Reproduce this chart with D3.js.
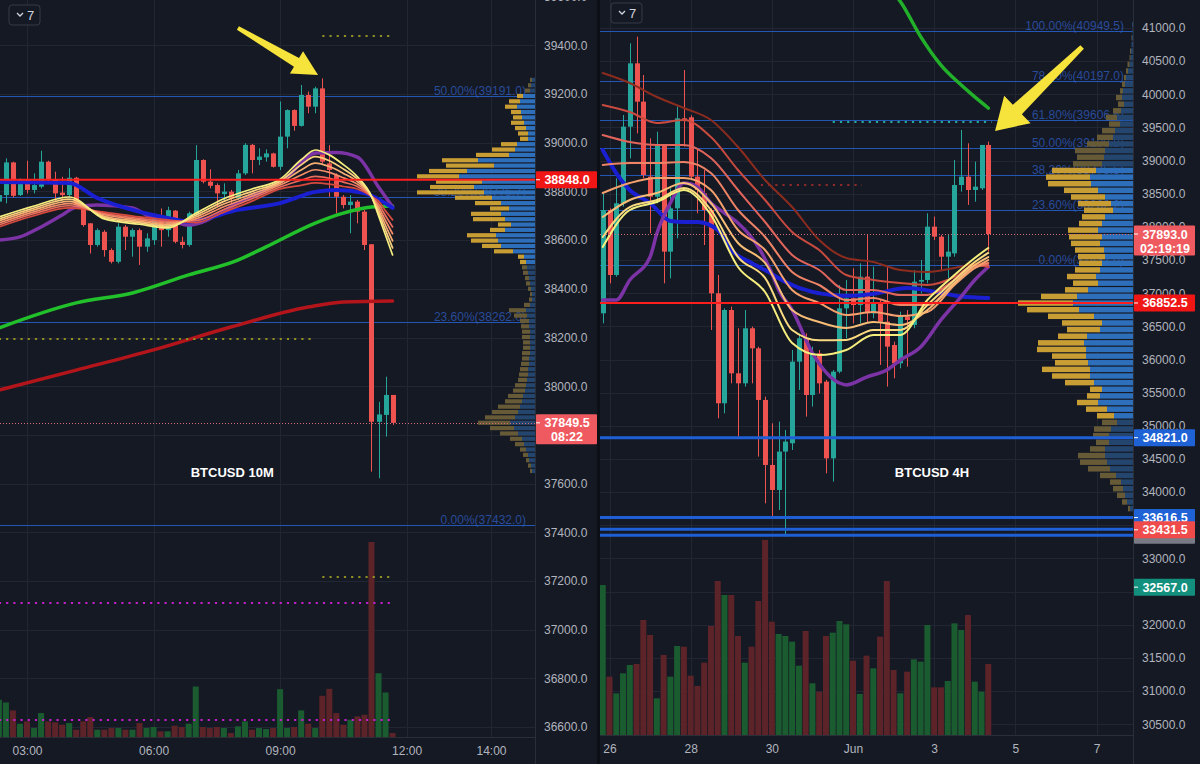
<!DOCTYPE html>
<html><head><meta charset="utf-8">
<script src="https://cdn.jsdelivr.net/npm/d3@7/dist/d3.min.js"></script>
<style>html,body{margin:0;padding:0;background:#151924;overflow:hidden}svg{display:block}text{font-family:"Liberation Sans",Arial,sans-serif}</style>
</head><body><svg id="chart" width="1200" height="764"></svg>
<script>
// ================= LEFT PANEL DATA : BTCUSD 10M =================
const leftTimes = "02:20 02:30 02:40 02:50 03:00 03:10 03:20 03:30 03:40 03:50 04:00 04:10 04:20 04:30 04:40 04:50 05:00 05:10 05:20 05:30 05:40 05:50 06:00 06:10 06:20 06:30 06:40 06:50 07:00 07:10 07:20 07:30 07:40 07:50 08:00 08:10 08:20 08:30 08:40 08:50 09:00 09:10 09:20 09:30 09:40 09:50 10:00 10:10 10:20 10:30 10:40 10:50 11:00 11:10 11:20 11:30 11:40".split(" ");
const leftOpen = [38758,38785,38919,38785,38847,38806,38819,38922,38847,38795,38785,38856,38744,38669,38580,38634,38559,38511,38655,38614,38641,38573,38600,38696,38641,38721,38593,38580,38703,38929,38840,38826,38789,38799,38772,38874,38991,38929,38940,38956,38901,39025,39134,39069,39196,39148,39223,38915,38867,38778,38744,38758,38717,38583,37854,37882,37964];
const leftHigh = [38800,38936,38922,38853,38926,38874,38967,38926,38881,38860,38895,38860,38751,38669,38648,38641,38566,38669,38662,38648,38648,38628,38703,38730,38737,38723,38614,38717,38990,38932,38891,38833,38833,38806,38888,38998,38995,38977,38973,38959,39169,39137,39137,39237,39210,39230,39264,38990,38874,38785,38785,38765,38724,38583,37936,38039,37964];
const leftLow = [38745,38751,38775,38781,38792,38792,38812,38840,38758,38771,38778,38737,38655,38545,38573,38532,38504,38504,38559,38532,38498,38552,38580,38573,38614,38587,38566,38573,38696,38833,38813,38737,38765,38751,38765,38867,38874,38908,38922,38898,38888,38977,39049,39066,39121,39121,38915,38778,38710,38730,38628,38669,38559,37649,37622,37793,37841];
const leftClose = [38785,38919,38782,38847,38806,38826,38922,38847,38792,38785,38856,38744,38662,38580,38641,38559,38511,38655,38614,38641,38573,38607,38696,38641,38723,38593,38580,38710,38929,38840,38823,38792,38799,38772,38874,38991,38929,38943,38956,38901,39025,39134,39069,39196,39148,39223,38922,38888,38778,38744,38758,38717,38580,37854,37884,37964,37849.5];
const leftVolume = [112,104,80,40,47,27,72,47,44,37,42,22,47,60,22,22,27,27,22,22,42,27,30,17,17,34,30,40,152,30,27,30,27,12,32,47,22,27,24,27,144,27,30,80,40,27,124,145,72,37,52,62,67,587,192,134,12];

const leftPriceTicks = [39600,39400,39200,39000,38800,38600,38400,38200,38000,37800,37600,37400,37200,37000,36800,36600];
const leftHiddenTickLabels = [37800];
const leftTimeTicks = ["03:00","06:00","09:00","12:00","14:00"];

const leftRibbonTimes = ["02:20","03:10","04:00","04:50","05:40","06:20","07:00","07:40","08:20","09:00","09:30","09:50","10:10","10:30","10:50","11:10","11:20","11:30","11:40"];
const leftRibbon0 = [38695,38740,38777,38687,38665,38650,38710,38770,38810,38850,38930,38970,38950,38910,38860,38780,38700,38620,38539];
const leftRibbon1 = [38687,38732,38768,38693,38671,38657,38702,38759,38800,38842,38909,38943,38926,38892,38850,38780,38712,38640,38568];
const leftRibbon2 = [38679,38724,38759,38698,38677,38663,38695,38748,38790,38834,38888,38916,38902,38874,38840,38780,38724,38660,38597];
const leftRibbon3 = [38670,38716,38750,38704,38683,38670,38687,38737,38780,38826,38867,38889,38878,38856,38830,38780,38736,38680,38626];
const leftRibbon4 = [38662,38708,38741,38709,38689,38676,38680,38726,38770,38818,38846,38862,38854,38838,38820,38780,38748,38700,38654];
const leftRibbon5 = [38654,38700,38732,38715,38695,38683,38672,38715,38760,38810,38825,38835,38830,38820,38810,38780,38760,38720,38683];

const leftGreenTimes = ["02:20","04:10","05:30","06:50","08:00","08:40","09:50","10:30","11:10","11:40"];
const leftGreen = [38239,38342,38383,38457,38518,38572,38670,38711,38736,38740];
const leftDarkRedTimes = ["02:20","04:10","06:00","07:50","09:40","10:30","11:40"];
const leftDarkRed = [37984,38066,38149,38243,38325,38346,38350];
const leftBlueTimes = ["02:20","04:00","04:40","05:30","06:20","06:50","08:00","09:00","09:50","10:20","11:00","11:40"];
const leftBlue = [38839,38835,38773,38724,38691,38676,38724,38752,38798,38806,38793,38732];
const leftPurpleTimes = ["02:20","02:50","03:20","03:50","04:10","04:40","05:30","05:50","06:20","06:50","08:00","09:10","09:50","10:20","10:50","11:20","11:40"];
const leftPurple = [38600,38613,38654,38703,38736,38744,38732,38703,38683,38662,38752,38859,38958,38960,38941,38818,38736];

const leftFibRatios = [50.00, 38.20, 23.60, 0.00];
const leftFibPrices = [39191.0, 38775.7, 38262.0, 37432.0];

const leftProfileTop = 39268.5, leftProfileStep = 22;
const leftProfileUp = [3,4,5,12,15,18,14,13,11,9,7,7,18,20,26,57,41,68,76,53,61,51,43,34,26,34,30,24,30,39,37,34,22,11,9,8,7,6,5,4,3,3,5,9,8,6,6,5,5,5,5,5,6,6,7,7,8,9,10,12,13,15,17,20,25,21,17,13,11,9,7,6,4,3];
const leftProfileDown = [2,3,5,6,11,12,10,9,13,11,10,8,16,23,33,36,48,38,42,46,44,67,37,26,19,30,32,13,15,29,27,19,19,6,6,5,5,4,4,3,2,3,6,17,13,9,8,8,8,7,7,8,7,8,8,9,9,11,12,15,17,22,26,30,32,24,18,12,9,6,5,3,3,2];
const leftValueArea = [3, 34];

const leftRedLevel = 38848.0;
const leftLastPrice = 37849.5, leftTimer = "08:22";
const leftOliveDots = [[39440,"10:00","11:40"],[38195,"02:20","09:50"],[37218,"10:00","11:40"]];
const leftMagentaDots = [[37110,"02:20","11:40"],[36630,"02:20","11:40"]];
const leftArrow = {from:["08:00",39471], to:["09:54",39278]};
const leftTitle = {text:"BTCUSD 10M", time:"07:52", price:37627};

// ================= RIGHT PANEL DATA : BTCUSD 4H =================
const rightTimes = ["05-25 20:00","05-26 00:00","05-26 04:00","05-26 08:00","05-26 12:00","05-26 16:00","05-26 20:00","05-27 00:00","05-27 04:00","05-27 08:00","05-27 12:00","05-27 16:00","05-27 20:00","05-28 00:00","05-28 04:00","05-28 08:00","05-28 12:00","05-28 16:00","05-28 20:00","05-29 00:00","05-29 04:00","05-29 08:00","05-29 12:00","05-29 16:00","05-29 20:00","05-30 00:00","05-30 04:00","05-30 08:00","05-30 12:00","05-30 16:00","05-30 20:00","05-31 00:00","05-31 04:00","05-31 08:00","05-31 12:00","05-31 16:00","05-31 20:00","06-01 00:00","06-01 04:00","06-01 08:00","06-01 12:00","06-01 16:00","06-01 20:00","06-02 00:00","06-02 04:00","06-02 08:00","06-02 12:00","06-02 16:00","06-02 20:00","06-03 00:00","06-03 04:00","06-03 08:00","06-03 12:00","06-03 16:00","06-03 20:00","06-04 00:00","06-04 04:00","06-04 08:00"];
const rightOpen = [36697,38255,37275,38356,39512,40467,39889,38758,38456,39235,37627,38280,39638,39653,38758,38507,38255,36999,35340,36747,35792,35641,36471,36169,35390,34410,34033,34611,34737,35968,36320,35465,36094,35666,34510,35817,36772,36923,36822,37250,36697,36848,36571,36219,35943,36646,36521,37174,37200,38004,37853,37551,37601,38632,38758,38557,38582,39236];
const rightHigh = [38507,38280,38733,39688,40769,40869,40291,39336,39436,39235,38582,39814,40366,39683,39160,38858,38280,37275,36772,36798,36471,36747,36496,36194,35440,35038,35063,34938,36144,36395,36395,36194,36144,35692,35842,37124,37200,37375,37451,37878,37400,36898,37400,36269,36722,36747,37350,37501,38205,38155,37878,37878,39009,39462,39261,38984,39236,39286];
const rightLow = [36546,37149,37250,38306,39034,39411,38733,37903,38356,37149,37225,37828,39210,38707,38205,37727,36446,35114,35189,35641,34837,35591,35641,34536,33831,33630,33731,33329,34636,35541,35139,35290,35490,34284,34159,35792,36320,36546,36546,36546,36622,35918,35592,35717,35867,35893,36471,36998,37149,37803,37350,37225,37551,38532,38331,38381,38557,37627];
const rightClose = [38255,37275,38356,39512,40467,39889,38783,38456,39235,37627,38280,39638,39610,38758,38557,38255,36999,35340,36747,35792,35641,36471,36169,35390,34410,34033,34611,34762,35968,36320,35465,36094,35641,34510,35817,36772,36923,36822,37250,36697,36848,36571,36194,35943,36646,36596,37174,37200,38004,37853,37551,37627,38632,38758,38557,38607,39236,37893];
const rightVolume = [450,175,125,185,210,213,345,300,110,240,175,267,265,178,147,217,327,462,420,420,297,217,265,402,585,340,303,297,280,208,312,155,130,297,307,342,332,223,123,238,200,295,462,195,125,190,227,220,330,143,143,162,335,315,360,160,130,213];

const rightPriceTicks = [41000,40500,40000,39500,39000,38500,38000,37500,37000,36500,36000,35500,35000,34500,34000,33500,33000,32500,32000,31500,31000,30500];
const rightHiddenTickLabels = [33500, 32500];
const rightDateTicks = ["05-26 00:00","05-28 00:00","05-30 00:00","06-01 00:00","06-03 00:00","06-05 00:00","06-07 00:00"];
const rightDateLabels = ["26","28","30","Jun","3","5","7"];

const rightRibbonTimes = ["05-25 20:00","05-26 12:00","05-27 04:00","05-27 20:00","05-28 12:00","05-29 04:00","05-29 20:00","05-30 12:00","05-31 04:00","05-31 20:00","06-01 12:00","06-02 04:00","06-02 20:00","06-03 12:00","06-04 00:00","06-04 08:00"];
const rightRibbon0 = [37697,38255,38376,38557,38180,37396,37019,36250,36068,36144,36370,36370,36898,37275,37531,37682];
const rightRibbon1 = [37848,38300,38406,38587,38255,37546,37230,36446,36290,36295,36446,36446,36823,37200,37471,37607];
const rightRibbon2 = [38150,38406,38512,38662,38361,37758,37456,36747,36566,36476,36566,36521,36747,37154,37426,37546];
const rightRibbon3 = [38512,38662,38738,38738,38557,37954,37652,37049,36853,36672,36717,36657,36717,37124,37381,37501];
const rightRibbon4 = [38934,38964,38964,38979,38813,38255,37848,37320,37124,36898,36928,36823,36823,37154,37381,37456];
const rightRibbon5 = [39386,39281,39235,39235,39039,38557,38074,37577,37350,37049,37049,36973,36973,37200,37411,37426];
const rightRibbon6 = [39839,39733,39567,39612,39356,38858,38406,37923,37652,37275,37200,37154,37124,37245,37426,37396];
const rightRibbon7 = [40321,40170,39959,39793,39612,39205,38708,38300,37803,37531,37471,37350,37320,37381,37441,37456];

const rightBlueTimes = ["05-25 20:00","05-26 04:00","05-26 12:00","05-27 00:00","05-27 12:00","05-27 20:00","05-28 04:00","05-28 16:00","05-29 00:00","05-29 12:00","05-29 20:00","05-30 08:00","05-31 00:00","05-31 12:00","05-31 20:00","06-01 12:00","06-02 08:00","06-03 04:00","06-03 16:00","06-04 08:00"];
const rightBlue = [39160,38813,38557,38361,38090,38074,38074,37954,37652,37456,37350,37170,37020,36973,36960,36990,37079,37004,36950,36928];
const rightPurpleTimes = ["05-25 20:00","05-26 04:00","05-26 12:00","05-27 00:00","05-27 04:00","05-27 12:00","05-27 20:00","05-28 04:00","05-28 12:00","05-28 20:00","05-29 04:00","05-29 16:00","05-30 00:00","05-30 04:00","05-30 12:00","05-31 00:00","05-31 16:00","05-31 20:00","06-01 08:00","06-01 20:00","06-02 04:00","06-02 16:00","06-03 04:00","06-03 16:00","06-04 00:00","06-04 08:00"];
const rightPurple = [36898,36898,37200,37546,37900,38361,38662,38602,38361,38210,38059,37697,37300,37049,36750,36098,35646,35616,35736,35842,35993,36189,36597,36950,37200,37396];
const rightGreenTimes = ["06-01 16:00","06-02 04:00","06-02 16:00","06-03 04:00","06-03 16:00","06-04 00:00","06-04 08:00"];
const rightGreen = [41724,41400,40870,40440,40140,39960,39793];

const rightFibRatios = [100.00, 78.60, 61.80, 50.00, 38.20, 23.60, 0.00];
const rightFibPrices = [40949.5, 40197.0, 39606.6, 39190.8, 38775.5, 38262.2, 37432.0];

const rightProfileTop = 41100, rightProfileStep = 100;
const rightProfileUp = [1,0.5,1,1.5,2,2.5,3.5,5,7,8,10,11,9,12,16,13,18,20,24,28,29,31,37,43,42,35,28,22,20,28,31,35,31,33,29,28,31,33,37,35,45,56,60,54,39,31,33,46,49,47,47,45,43,43,39,31,33,35,26,19,16,22,24,24,28,28,26,23,17,12,10,8,6,3];
const rightProfileDown = [0,0,0.5,0,1,1,2,2,2,3,3,6,6,8,11,11,13,16,22,30,27,29,44,44,43,34,34,33,29,23,23,30,33,29,29,27,23,25,29,25,23,36,55,52,46,40,33,29,46,49,34,33,48,38,29,12,13,21,21,17,15,17,16,13,15,27,27,22,16,11,10,8,5,2];
const rightValueArea = [22, 59];

const rightRedLevel = 36852.5;
const rightBlueLevels = [34821.0, 33616.5, 33440.0, 33350.0];
const rightLastPrice = 37893.0, rightTimer = "02:19:19";
const rightTealDots = [[39582,"05-31 12:00","06-04 10:00"]];
const rightRedDots = [[38632,"05-29 17:30","06-01 05:20"]];
const rightArrow = {from:["06-06 15:30",40713], to:["06-04 12:00",39447]};
const rightTitle = {text:"BTCUSD 4H", time:"06-02 22:45", price:34230};

// ================= DRAWING =================
const svg = d3.select("#chart");
const BG = "#151924", GRID = "#222633", AXIS_TXT = "#b2b5be";
const UP = "#26a69a", DOWN = "#ef5350";
const parseL = d3.utcParse("%Y-%m-%d %H:%M");
const tL = s => parseL("2021-06-04 " + s);
const tR = s => parseL("2021-" + s);

svg.append("rect").attr("width",1200).attr("height",764).attr("fill",BG);

const xL = d3.scaleTime().domain([tL("03:00"), tL("14:00")]).range([27, 491]);
const yL = d3.scaleLinear().domain([39200, 36600]).range([94, 727.1]);
const xR = d3.scaleTime().domain([tR("05-26 00:00"), tR("06-07 00:00")]).range([609.5, 1096.5]);
const yR = d3.scaleLinear().domain([41000, 30500]).range([28, 724.2]);

const defs = svg.append("defs");
defs.append("clipPath").attr("id","clipL").append("rect").attr("x",0).attr("y",0).attr("width",535).attr("height",737);
defs.append("clipPath").attr("id","clipR").append("rect").attr("x",600).attr("y",0).attr("width",533).attr("height",735);

function arrowPoly(x1,y1,x2,y2,headLen,headW,w1,w2){
  const dx=x2-x1, dy=y2-y1, L=Math.hypot(dx,dy), ux=dx/L, uy=dy/L, px=-uy, py=ux;
  const bx=x2-ux*headLen, by=y2-uy*headLen;
  return [[x1+px*w1/2,y1+py*w1/2],[bx+px*w2/2,by+py*w2/2],[bx+px*headW,by+py*headW],[x2,y2],
          [bx-px*headW,by-py*headW],[bx-px*w2/2,by-py*w2/2],[x1-px*w1/2,y1-py*w1/2]].map(p=>p.join(",")).join(" ");
}

function drawPanel(P){
  const {x,y,tp} = P;
  const grid = svg.append("g").attr("clip-path",`url(#${P.clip})`);
  P.priceTicks.forEach(p=>grid.append("line").attr("x1",P.x0).attr("x2",P.x1).attr("y1",Math.round(y(p))+0.5).attr("y2",Math.round(y(p))+0.5).attr("stroke",GRID));
  P.timeTicks.forEach(t=>grid.append("line").attr("x1",Math.round(x(tp(t)))+0.5).attr("x2",Math.round(x(tp(t)))+0.5).attr("y1",0).attr("y2",P.yb).attr("stroke",GRID));

  const plot = svg.append("g").attr("clip-path",`url(#${P.clip})`);
  const bars = P.times.map((t,i)=>({t:tp(t), o:P.open[i], h:P.high[i], l:P.low[i], c:P.close[i], v:P.volume[i]}));

  const vy = d3.scaleLinear().domain([0, P.volMax]).range([P.yb, P.yb - 195]);
  plot.append("g").selectAll("rect").data(bars).join("rect")
    .attr("x",d=>x(d.t)-P.volW/2).attr("width",P.volW)
    .attr("y",d=>vy(d.v)).attr("height",d=>P.yb - vy(d.v))
    .attr("fill",d=>d.c>=d.o ? "#1a5c30" : "#5c2328");

  P.fibPrices.forEach((p,i)=>{
    const yy = Math.round(y(p))+0.5;
    plot.append("line").attr("x1",P.x0).attr("x2",P.x1).attr("y1",yy).attr("y2",yy).attr("stroke","#2456b4").attr("stroke-width",1);
    plot.append("text").attr("x",P.x1-9).attr("y",yy-2).attr("text-anchor","end").attr("font-size",12)
      .attr("fill","#2f5dc0").attr("fill-opacity",0.75).text(`${P.fibRatios[i].toFixed(2)}%(${p.toFixed(1)})`);
  });

  const pw = d3.scaleLinear().domain([0,1]).range([0,1]);
  const prof = plot.append("g");
  P.profUp.forEach((u,k)=>{
    const pTop = P.profTop - P.profStep*k, pBot = pTop - P.profStep;
    const y0 = y(pTop), y1 = y(pBot);
    const dim = k < P.va[0] || k > P.va[1];
    const wu = pw(u), wd = pw(P.profDown[k]);
    prof.append("rect").attr("x",P.x1-wu).attr("y",y0+0.5).attr("width",wu).attr("height",Math.max(1,y1-y0-1.2))
      .attr("fill",dim ? "#24466e" : "#2e6fbb");
    prof.append("rect").attr("x",P.x1-wu-wd).attr("y",y0+0.5).attr("width",wd).attr("height",Math.max(1,y1-y0-1.2))
      .attr("fill",dim ? "#675a36" : "#c89d34");
  });

  const cg = plot.append("g");
  cg.selectAll("line").data(bars).join("line")
    .attr("x1",d=>Math.round(x(d.t))+0.5).attr("x2",d=>Math.round(x(d.t))+0.5)
    .attr("y1",d=>y(d.h)).attr("y2",d=>y(d.l))
    .attr("stroke",d=>d.c>=d.o?UP:DOWN).attr("stroke-width",1);
  cg.selectAll("rect").data(bars).join("rect")
    .attr("x",d=>Math.round(x(d.t))-2).attr("width",5)
    .attr("y",d=>y(Math.max(d.o,d.c))).attr("height",d=>Math.max(1,Math.abs(y(d.o)-y(d.c))))
    .attr("fill",d=>d.c>=d.o?UP:DOWN);

  const line = d3.line().x(d=>x(d.t)).y(d=>y(d.v)).curve(d3.curveMonotoneX);
  P.lines.forEach(L=>{
    const pts = L.times.map((t,i)=>({t:tp(t), v:L.values[i]}));
    plot.append("path").attr("d",line(pts)).attr("fill","none").attr("stroke",L.color)
      .attr("stroke-width",L.w).attr("stroke-linecap","round").attr("stroke-linejoin","round");
  });

  P.dots.forEach(D=>{
    D.items.forEach(([p,a,b])=>{
      const yy = Math.round(y(p));
      plot.append("line").attr("x1",x(tp(a))).attr("x2",x(tp(b))).attr("y1",yy).attr("y2",yy)
        .attr("stroke",D.color).attr("stroke-width",2.2).attr("stroke-dasharray","2.2,5");
    });
  });

  P.levels.forEach(Lv=>{
    plot.append("line").attr("x1",P.x0).attr("x2",P.x1).attr("y1",y(Lv.p)).attr("y2",y(Lv.p))
      .attr("stroke",Lv.color).attr("stroke-width",Lv.w);
  });

  const ly = Math.round(y(P.last))+0.5;
  plot.append("line").attr("x1",P.x0).attr("x2",P.x1).attr("y1",ly).attr("y2",ly)
    .attr("stroke","#d56a78").attr("stroke-width",1).attr("stroke-dasharray","1,2");

  plot.append("text").attr("x",x(tp(P.title.time))).attr("y",y(P.title.price)).attr("text-anchor","middle")
    .attr("fill","#ffffff").attr("font-size",13).attr("font-weight","bold").text(P.title.text);

  const a1 = [x(tp(P.arrow.from[0])), y(P.arrow.from[1])], a2 = [x(tp(P.arrow.to[0])), y(P.arrow.to[1])];
  svg.append("polygon").attr("points",arrowPoly(a1[0],a1[1],a2[0],a2[1],P.arrowHead[0],P.arrowHead[1],P.arrowHead[2],P.arrowHead[3]))
    .attr("fill","#f6e33b");

  svg.append("line").attr("x1",P.x1+0.5).attr("x2",P.x1+0.5).attr("y1",0).attr("y2",764).attr("stroke","#2a2e39");
  svg.append("line").attr("x1",P.x0).attr("x2",P.x1).attr("y1",P.yb+0.5).attr("y2",P.yb+0.5).attr("stroke","#2a2e39");

  const labelTicks = P.priceTicks.filter(p=>!P.hiddenTicks.includes(p));
  const ay = svg.append("g").attr("transform",`translate(${P.x1},0)`)
    .call(d3.axisRight(y).tickValues(labelTicks).tickSize(0).tickPadding(9).tickFormat(d3.format(".1f")));
  ay.select(".domain").remove();
  ay.selectAll("text").attr("fill",AXIS_TXT).attr("font-size",12).attr("font-family","Liberation Sans, Arial, sans-serif");

  const ax = svg.append("g").attr("transform",`translate(0,${P.yb})`)
    .call(d3.axisBottom(x).tickValues(P.timeTicks.map(tp)).tickSize(0).tickPadding(9).tickFormat((d,i)=>P.timeLabels[i]));
  ax.select(".domain").remove();
  ax.selectAll("text").attr("fill",AXIS_TXT).attr("font-size",12).attr("font-family","Liberation Sans, Arial, sans-serif");

  const wg = svg.append("g").attr("transform",`translate(${P.x0+P.widget[0]},${P.widget[1]})`);
  wg.append("rect").attr("width",31).attr("height",20).attr("rx",3).attr("fill",BG).attr("stroke","#363a45");
  wg.append("path").attr("d","M8,8 L11,11 L14,8").attr("fill","none").attr("stroke","#d1d4dc").attr("stroke-width",1.3);
  wg.append("text").attr("x",18).attr("y",15).attr("fill","#d1d4dc").attr("font-size",13).text("7");
}

function priceLabel(xA, yc, lines, fill){
  const g = svg.append("g");
  const hh = lines.length===2 ? 30 : 17;
  g.append("rect").attr("x",xA+1).attr("y",yc-8.5).attr("width",61).attr("height",hh).attr("fill",fill).attr("rx",1);
  g.append("line").attr("x1",xA+1).attr("x2",xA+5).attr("y1",yc).attr("y2",yc).attr("stroke","#ffffff").attr("stroke-width",1);
  lines.forEach((t,i)=>g.append("text").attr("x",xA+32).attr("y",yc+4.5+i*14).attr("text-anchor","middle")
    .attr("fill","#ffffff").attr("font-size",12.5).attr("font-weight","bold").text(t));
}

drawPanel({
  x:xL, y:yL, tp:tL, clip:"clipL", x0:0, x1:535, yb:737,
  times:leftTimes, open:leftOpen, high:leftHigh, low:leftLow, close:leftClose, volume:leftVolume, volMax:587, volW:6,
  priceTicks:leftPriceTicks, hiddenTicks:leftHiddenTickLabels, timeTicks:leftTimeTicks, timeLabels:leftTimeTicks,
  fibPrices:leftFibPrices, fibRatios:leftFibRatios,
  profTop:leftProfileTop, profStep:leftProfileStep, profUp:leftProfileUp, profDown:leftProfileDown, va:leftValueArea,
  lines:[
    {times:leftDarkRedTimes, values:leftDarkRed, color:"#b3151b", w:3.5},
    {times:leftGreenTimes, values:leftGreen, color:"#22c02a", w:3.5},
    {times:leftPurpleTimes, values:leftPurple, color:"#7b33a6", w:3.5},
    {times:leftBlueTimes, values:leftBlue, color:"#1a1fd2", w:4},
    {times:leftRibbonTimes, values:leftRibbon5, color:"#d64a3e", w:1.7},
    {times:leftRibbonTimes, values:leftRibbon4, color:"#ea6c5c", w:1.7},
    {times:leftRibbonTimes, values:leftRibbon3, color:"#f38f68", w:1.7},
    {times:leftRibbonTimes, values:leftRibbon2, color:"#f7ae72", w:1.7},
    {times:leftRibbonTimes, values:leftRibbon1, color:"#fad07e", w:1.7},
    {times:leftRibbonTimes, values:leftRibbon0, color:"#f7ee80", w:1.7}
  ],
  dots:[{color:"#8e8e22", items:leftOliveDots},{color:"#c21fc8", items:leftMagentaDots}],
  levels:[{p:leftRedLevel, color:"#ff1e1e", w:2}],
  last:leftLastPrice, title:leftTitle, arrow:leftArrow, arrowHead:[25,13,4,10], widget:[9,5]
});

drawPanel({
  x:xR, y:yR, tp:tR, clip:"clipR", x0:600, x1:1133, yb:735,
  times:rightTimes, open:rightOpen, high:rightHigh, low:rightLow, close:rightClose, volume:rightVolume, volMax:585, volW:6,
  priceTicks:rightPriceTicks, hiddenTicks:rightHiddenTickLabels, timeTicks:rightDateTicks, timeLabels:rightDateLabels,
  fibPrices:rightFibPrices, fibRatios:rightFibRatios,
  profTop:rightProfileTop, profStep:rightProfileStep, profUp:rightProfileUp, profDown:rightProfileDown, va:rightValueArea,
  lines:[
    {times:rightGreenTimes, values:rightGreen, color:"#22b02a", w:3.5},
    {times:rightBlueTimes, values:rightBlue, color:"#1a1fd2", w:4},
    {times:rightPurpleTimes, values:rightPurple, color:"#7b33a6", w:3.5},
    {times:rightRibbonTimes, values:rightRibbon7, color:"#8c2c1e", w:2},
    {times:rightRibbonTimes, values:rightRibbon6, color:"#c94a3f", w:2},
    {times:rightRibbonTimes, values:rightRibbon5, color:"#e2655c", w:2},
    {times:rightRibbonTimes, values:rightRibbon4, color:"#ee8366", w:2},
    {times:rightRibbonTimes, values:rightRibbon3, color:"#f5a16e", w:2},
    {times:rightRibbonTimes, values:rightRibbon2, color:"#f7bd76", w:2},
    {times:rightRibbonTimes, values:rightRibbon1, color:"#f9da80", w:2},
    {times:rightRibbonTimes, values:rightRibbon0, color:"#f6ef7e", w:2}
  ],
  dots:[{color:"#26a69a", items:rightTealDots},{color:"#8e2a2a", items:rightRedDots}],
  levels:[{p:rightRedLevel, color:"#ff1e1e", w:2}].concat(rightBlueLevels.map(p=>({p, color:"#1f5fd6", w:3}))),
  last:rightLastPrice, title:rightTitle, arrow:rightArrow, arrowHead:[31,19,5,13], widget:[11,3]
});

svg.append("rect").attr("x",597).attr("y",0).attr("width",3).attr("height",764).attr("fill","#0d0f16");

priceLabel(535, yL(leftRedLevel), [d3.format(".1f")(leftRedLevel)], "#f01616");
priceLabel(535, yL(leftLastPrice), [d3.format(".1f")(leftLastPrice), leftTimer], "#ef5a60");
priceLabel(1133, yR(rightLastPrice), [d3.format(".1f")(rightLastPrice), rightTimer], "#ef5a60");
priceLabel(1133, yR(rightRedLevel), [d3.format(".1f")(rightRedLevel)], "#f01616");
priceLabel(1133, yR(rightBlueLevels[0]), [d3.format(".1f")(rightBlueLevels[0])], "#1f62d6");
priceLabel(1133, yR(rightBlueLevels[1]), [d3.format(".1f")(rightBlueLevels[1])], "#1f62d6");
priceLabel(1133, yR(rightBlueLevels[3]), [], "#787b86");
priceLabel(1133, yR(33431.5), ["33431.5"], "#ef4b4b");
priceLabel(1133, yR(32567.0), ["32567.0"], "#138f7e");
</script></body></html>
